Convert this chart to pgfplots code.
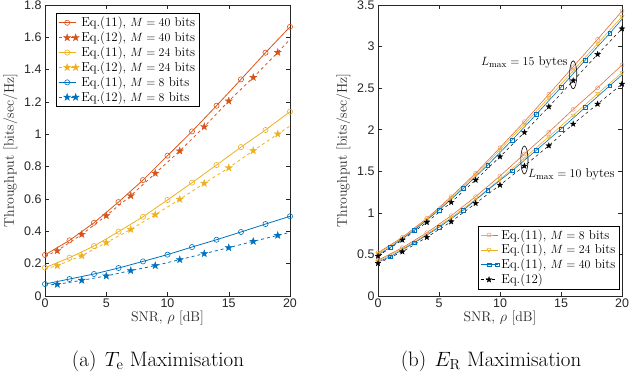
\documentclass[border=0pt]{standalone}
\usepackage{pgfplots}
\pgfplotsset{compat=1.18}
\usepackage{pgfplotstable}
\usepackage{fontspec}
\newfontfamily\ticksf{Liberation Sans}
\usetikzlibrary{plotmarks}
\definecolor{mOr}{rgb}{0.85,0.325,0.098}
\definecolor{mYe}{rgb}{0.929,0.694,0.125}
\definecolor{mBl}{rgb}{0,0.447,0.741}
\definecolor{axgray}{rgb}{0.15,0.15,0.15}
\pgfdeclareplotmark{pstar}{%
  \pgfpathmoveto{\pgfpointpolar{90}{\pgfplotmarksize}}%
  \pgfpathlineto{\pgfpointpolar{126}{0.4*\pgfplotmarksize}}%
  \pgfpathlineto{\pgfpointpolar{162}{\pgfplotmarksize}}%
  \pgfpathlineto{\pgfpointpolar{198}{0.4*\pgfplotmarksize}}%
  \pgfpathlineto{\pgfpointpolar{234}{\pgfplotmarksize}}%
  \pgfpathlineto{\pgfpointpolar{270}{0.4*\pgfplotmarksize}}%
  \pgfpathlineto{\pgfpointpolar{306}{\pgfplotmarksize}}%
  \pgfpathlineto{\pgfpointpolar{342}{0.4*\pgfplotmarksize}}%
  \pgfpathlineto{\pgfpointpolar{18}{\pgfplotmarksize}}%
  \pgfpathlineto{\pgfpointpolar{54}{0.4*\pgfplotmarksize}}%
  \pgfpathclose\pgfusepathqfillstroke}

% left panel data
\pgfplotstableread{
x y
0 0.254
2 0.344
4 0.453
6 0.581
8 0.717
10 0.868
12 1.018
14 1.177
16 1.340
18 1.505
20 1.665
}\LaA
\pgfplotstableread{
x y
0 0.245
1 0.280
3 0.381
5 0.497
7 0.620
9 0.759
11 0.897
13 1.047
15 1.206
17 1.352
19 1.507
20 1.587
}\LaB
\pgfplotstableread{
x y
0 0.175
2 0.237
4 0.309
6 0.398
8 0.490
10 0.594
12 0.701
14 0.810
16 0.921
18 1.027
20 1.140
}\LbA
\pgfplotstableread{
x y
0 0.168
1 0.188
3 0.249
5 0.330
7 0.412
9 0.503
11 0.598
13 0.697
15 0.793
17 0.899
19 1.002
20 1.051
}\LbB
\pgfplotstableread{
x y
0 0.074
2 0.105
4 0.136
6 0.173
8 0.214
10 0.256
12 0.303
14 0.348
16 0.396
18 0.445
20 0.493
}\LcA
\pgfplotstableread{
x y
0 0.068
1 0.072
3 0.097
5 0.124
7 0.157
9 0.188
11 0.225
13 0.262
15 0.299
17 0.338
19 0.375
20 0.394
}\LcB

% right panel data
\pgfplotstableread{
x o15 y15 s15 o10 y10 s10
0 0.521 0.510 0.480 0.430 0.420 0.393
2 0.706 0.695 0.674 0.581 0.566 0.533
4 0.934 0.920 0.886 0.761 0.742 0.706
6 1.195 1.178 1.127 0.966 0.942 0.894
8 1.476 1.455 1.395 1.195 1.163 1.115
10 1.784 1.758 1.676 1.443 1.403 1.335
12 2.097 2.065 1.968 1.708 1.658 1.564
14 2.426 2.385 2.277 1.970 1.915 1.808
16 2.758 2.710 2.590 2.245 2.175 2.069
18 3.087 3.035 2.907 2.505 2.432 2.309
20 3.428 3.360 3.215 2.778 2.686 2.550
}\Reven
\pgfplotstableread{
x b15 b10
0 0.495 0.410
1 0.585 0.473
3 0.794 0.641
5 1.034 0.826
7 1.295 1.034
9 1.576 1.275
11 1.876 1.507
13 2.189 1.756
15 2.510 2.009
17 2.839 2.270
19 3.160 2.530
20 3.330 2.660
}\Rblue

\pgfplotsset{
  mystyle/.style={
    scale only axis,
    width=245bp, height=291bp,
    xmin=0, xmax=20,
    xtick={0,5,10,15,20},
    tick align=inside,
    major tick length=4bp,
    axis line style={axgray, line width=0.5pt},
    tick style={axgray, line width=0.5pt},
    /pgf/number format/assume math mode=true,
    ticklabel style={font=\ticksf\fontsize{12.5}{14}\selectfont, text=axgray},
    xticklabel style={yshift=1bp},
    label style={font=\fontsize{14}{16}\selectfont, text=axgray},
    xlabel style={yshift=3bp},
    xlabel={SNR, $\rho$ [dB]},
    ylabel={Throughput [bits/sec/Hz]},
    legend cell align=left,
    legend style={font=\fontsize{13}{14.5}\selectfont, draw=black, line width=0.5pt,
      inner xsep=2bp, inner ysep=1.5bp, row sep=-0.3bp},
  }
}

\begin{document}
\begin{tikzpicture}
\path[use as bounding box] (0,0) rectangle (629bp,380bp);

\begin{axis}[mystyle, at={(45bp,84bp)}, anchor=south west,
  ymin=0, ymax=1.8,
  ytick={0,0.2,0.4,0.6,0.8,1,1.2,1.4,1.6,1.8},
  yticklabels={0,0.2,0.4,0.6,0.8,1,1.2,1.4,1.6,1.8},
  legend style={at={(0.045,0.971)}, anchor=north west},
]
\addplot[mOr, line width=0.8pt, mark=o, mark size=2.6bp, mark options={solid, line width=0.6pt}] table[x=x,y=y]{\LaA};
\addlegendentry{Eq.(11), $M=40$ bits}
\addplot[mOr, line width=0.8pt, dashed, mark=pstar, mark size=3.8bp, mark indices={2,...,11}, mark options={solid, fill=mOr, line width=0.3pt}] table[x=x,y=y]{\LaB};
\addlegendentry{Eq.(12), $M=40$ bits}
\addplot[mYe, line width=0.8pt, mark=o, mark size=2.6bp, mark options={solid, line width=0.6pt}] table[x=x,y=y]{\LbA};
\addlegendentry{Eq.(11), $M=24$ bits}
\addplot[mYe, line width=0.8pt, dashed, mark=pstar, mark size=3.8bp, mark indices={2,...,11}, mark options={solid, fill=mYe, line width=0.3pt}] table[x=x,y=y]{\LbB};
\addlegendentry{Eq.(12), $M=24$ bits}
\addplot[mBl, line width=0.8pt, mark=o, mark size=2.6bp, mark options={solid, line width=0.6pt}] table[x=x,y=y]{\LcA};
\addlegendentry{Eq.(11), $M=8$ bits}
\addplot[mBl, line width=0.8pt, dashed, mark=pstar, mark size=3.8bp, mark indices={2,...,11}, mark options={solid, fill=mBl, line width=0.3pt}] table[x=x,y=y]{\LcB};
\addlegendentry{Eq.(12), $M=8$ bits}
\end{axis}

\begin{axis}[mystyle, at={(378bp,84bp)}, anchor=south west,
  width=244bp,
  ymin=0, ymax=3.5,
  ytick={0,0.5,1,1.5,2,2.5,3,3.5},
  yticklabels={0,0.5,1,1.5,2,2.5,3,3.5},
  legend style={at={(0.99,0.024)}, anchor=south east},
]
\addplot[mOr!85, line width=0.6pt, mark=o, mark size=2bp, mark options={solid, mOr!60, line width=0.5pt}] table[x=x,y=o15]{\Reven};
\addlegendentry{Eq.(11), $M=8$ bits}
\addplot[mYe, line width=0.6pt, mark=triangle, mark size=2.3bp, mark options={solid, rotate=180, line width=0.5pt}] table[x=x,y=y15]{\Reven};
\addlegendentry{Eq.(11), $M=24$ bits}
\addplot[mBl, line width=0.6pt, mark=square, mark size=1.9bp, mark indices={2,...,11}, mark options={solid, line width=0.5pt}] table[x=x,y=b15]{\Rblue};
\addlegendentry{Eq.(11), $M=40$ bits}
\addplot[black, line width=0.5pt, dashed, mark=pstar, mark size=3bp, mark options={solid, fill=black, line width=0.3pt}] table[x=x,y=s15]{\Reven};
\addlegendentry{Eq.(12)}
\addplot[forget plot, mOr!85, line width=0.6pt, mark=o, mark size=2bp, mark options={solid, mOr!60, line width=0.5pt}] table[x=x,y=o10]{\Reven};
\addplot[forget plot, mYe, line width=0.6pt, mark=triangle, mark size=2.3bp, mark options={solid, rotate=180, line width=0.5pt}] table[x=x,y=y10]{\Reven};
\addplot[forget plot, mBl, line width=0.6pt, mark=square, mark size=1.9bp, mark indices={2,...,11}, mark options={solid, line width=0.5pt}] table[x=x,y=b10]{\Rblue};
\addplot[forget plot, black, line width=0.5pt, dashed, mark=pstar, mark size=3bp, mark options={solid, fill=black, line width=0.3pt}] table[x=x,y=s10]{\Reven};
\draw[black, line width=0.6pt] (axis cs:16,2.66) ellipse [x radius=3.6bp, y radius=14bp];
\draw[black, line width=0.6pt] (axis cs:12,1.636) ellipse [x radius=3.6bp, y radius=14bp];
\node[anchor=east, inner sep=0.5bp, font=\fontsize{13}{14.5}\selectfont] at (axis cs:15.6,2.81) {$L_{\max}=15$ bytes};
\node[anchor=west, inner sep=0.5bp, font=\fontsize{13}{14.5}\selectfont] at (axis cs:12.25,1.46) {$L_{\max}=10$ bytes};
\end{axis}

\node[font=\fontsize{21}{24}\selectfont] at (158bp,19bp) {(a)\hspace{0.4em}$T_{\mathrm{e}}$ Maximisation};
\node[font=\fontsize{21}{24}\selectfont] at (491bp,19bp) {(b)\hspace{0.4em}$E_{\mathrm{R}}$ Maximisation};
\end{tikzpicture}
\end{document}
